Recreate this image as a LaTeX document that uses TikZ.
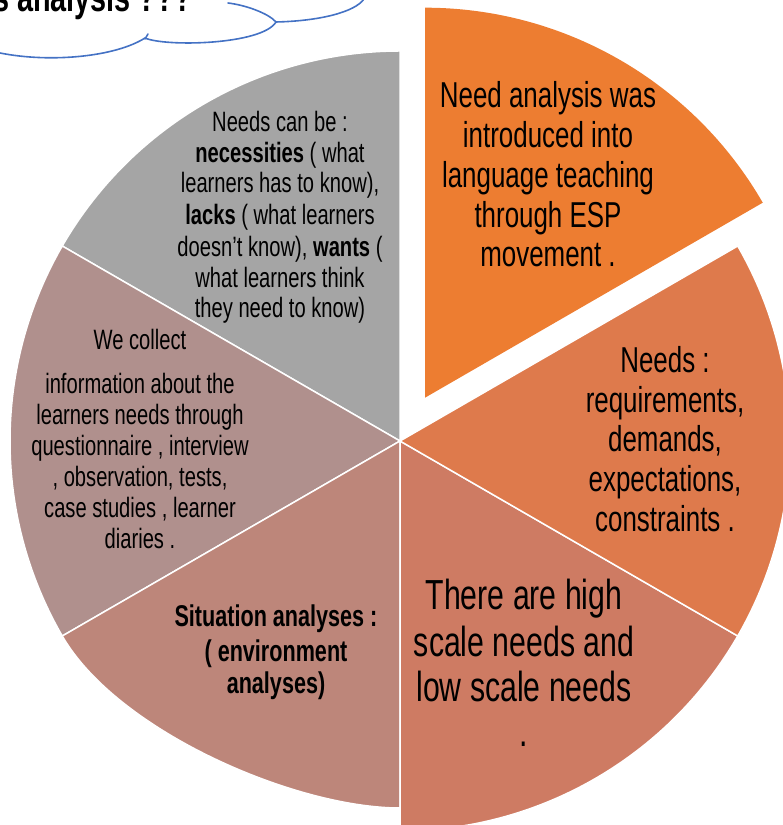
\documentclass[tikz,border=0pt]{standalone}
\usepackage{fontspec}
\setmainfont{Liberation Sans}[FakeStretch=0.72]
\definecolor{cOrange}{HTML}{ED7D31}
\definecolor{cNeeds}{HTML}{DE7A4C}
\definecolor{cHigh}{HTML}{CE7B63}
\definecolor{cSit}{HTML}{BD867A}
\definecolor{cRose}{HTML}{B0908D}
\definecolor{cGrey}{HTML}{A5A5A5}
\definecolor{cCloud}{HTML}{4472C4}
\begin{document}
\begin{tikzpicture}[x=1pt,y=1pt,
  sec/.style={draw=white,line width=1.5pt,line join=miter},
  txt/.style={anchor=base,inner sep=0pt,text=black},
  fBig/.style={font=\fontsize{36}{40}\selectfont},
  fHuge/.style={font=\fontsize{42}{46}\selectfont},
  fSit/.style={font=\fontsize{30}{34}\selectfont\bfseries},
  fSmall/.style={font=\fontsize{28}{31}\selectfont},
  fCloud/.style={font=\fontsize{40}{44}\selectfont\bfseries},
  cloudline/.style={draw=cCloud,line width=1.6pt,line cap=round}]
\useasboundingbox (0,0) rectangle (783,825);
\coordinate (C) at (400,384);
\coordinate (O) at (425,427.3);
% sectors
\path[sec,fill=cGrey] (C) -- ++(90:390) arc[start angle=90,end angle=150,radius=390] -- cycle;
\path[sec,fill=cRose] (C) -- ++(150:390) arc[start angle=150,end angle=210,radius=390] -- cycle;
\path[sec,fill=cSit] (C) -- ++(210:390) .. controls (117.3,93.7) and (295,17) .. (400,17) -- cycle;
\path[sec,fill=cHigh] (C) -- ++(270:390) arc[start angle=270,end angle=330,radius=390] -- cycle;
\path[sec,fill=cNeeds] (C) -- ++(330:390) arc[start angle=330,end angle=390,radius=390] -- cycle;
\path[fill=cOrange] (O) -- ++(30:390) arc[start angle=30,end angle=90,radius=390] -- cycle;
% cloud
\draw[cloudline] (0,772) .. controls (50,762) and (115,768) .. (145,787);
\draw[cloudline] (145,786) .. controls (146,788) .. (148,791);
\draw[cloudline] (145,787) .. controls (165,778) and (262,780) .. (276,803);
\draw[cloudline] (276,803) .. controls (320,804) and (355,813) .. (364,826);
\draw[cloudline] (228,822) .. controls (245,820) and (268,812) .. (276,803);
\node[txt,fCloud,anchor=base west] (cl) at (-7,813) {s analysis ???};
% orange text
\node[txt,fBig] (o1) at (548,717) {Need analysis was};
\node[txt,fBig] (o2) at (548,677) {introduced into};
\node[txt,fBig] (o3) at (548,637) {language teaching};
\node[txt,fBig] (o4) at (548,597) {through ESP};
\node[txt,fBig] (o5) at (548,558) {movement .};
% needs text
\node[txt,fBig] (n1) at (665,452) {Needs :};
\node[txt,fBig] (n2) at (665,412) {requirements,};
\node[txt,fBig] (n3) at (665,373) {demands,};
\node[txt,fBig] (n4) at (665,333) {expectations,};
\node[txt,fBig] (n5) at (665,293) {constraints .};
% high scale text
\node[txt,fHuge] (h1) at (524,215) {There are high};
\node[txt,fHuge] (h2) at (524,168) {scale needs and};
\node[txt,fHuge] (h3) at (524,123) {low scale needs};
\node[txt,fHuge] (h4) at (524,78) {.};
% situation text
\node[txt,fSit] (s1) at (276,198) {Situation analyses :};
\node[txt,fSit] (s2) at (276,163) {( environment};
\node[txt,fSit] (s3) at (276,131) {analyses)};
% rose text
\node[txt,fSmall] (r0) at (140,475) {We collect};
\node[txt,fSmall] (r1) at (140,431) {information about the};
\node[txt,fSmall] (r2) at (140,400) {learners needs through};
\node[txt,fSmall] (r3) at (140,369) {questionnaire , interview};
\node[txt,fSmall] (r4) at (140,338) {, observation, tests,};
\node[txt,fSmall] (r5) at (140,307) {case studies , learner};
\node[txt,fSmall] (r6) at (140,276) {diaries .};
% grey text
\node[txt,fSmall] (g1) at (280,693) {Needs can be :};
\node[txt,fSmall] (g2) at (280,662) {\textbf{necessities} ( what};
\node[txt,fSmall] (g3) at (280,632) {learners has to know),};
\node[txt,fSmall] (g4) at (280,600) {\textbf{lacks} ( what learners};
\node[txt,fSmall] (g5) at (280,568) {doesn’t know), \textbf{wants} (};
\node[txt,fSmall] (g6) at (280,537) {what learners think};
\node[txt,fSmall] (g7) at (280,507) {they need to know)};
\end{tikzpicture}
\end{document}
